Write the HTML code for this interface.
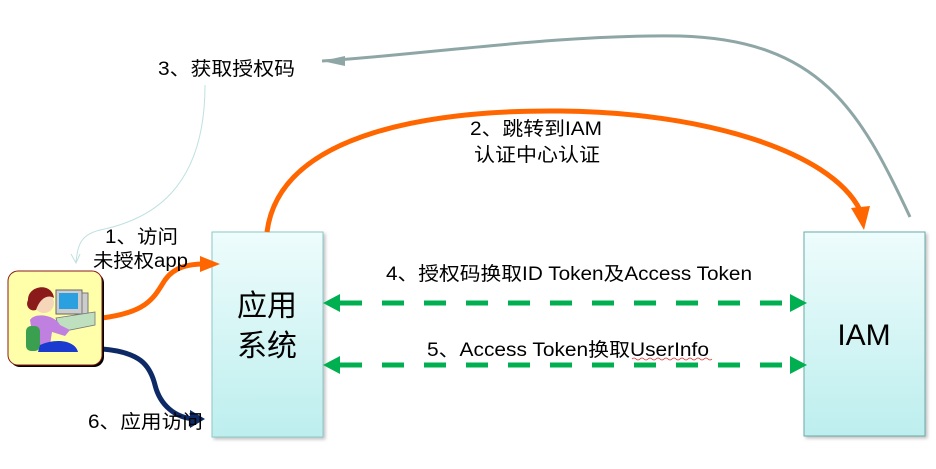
<!DOCTYPE html>
<html><head><meta charset="utf-8"><style>
html,body{margin:0;padding:0;background:#fff;}
svg text{font-family:"Liberation Sans","Noto Sans CJK SC",sans-serif;fill:#000;}
</style></head><body>
<svg width="936" height="464" viewBox="0 0 936 464" xmlns="http://www.w3.org/2000/svg">
<defs>
<linearGradient id="g" x1="0" y1="0" x2="0" y2="1">
<stop offset="0" stop-color="#eefcfc"/><stop offset="1" stop-color="#bdeeee"/>
</linearGradient>
<filter id="sh"><feDropShadow dx="2" dy="2" stdDeviation="1.5" flood-color="#999" flood-opacity="0.6"/></filter>
</defs>
<rect x="212" y="232" width="111" height="205" fill="url(#g)" stroke="#8cc8c8" stroke-width="1" filter="url(#sh)"/>
<rect x="804" y="232" width="121" height="204" fill="url(#g)" stroke="#6aabab" stroke-width="1" filter="url(#sh)"/>
<text x="267" y="316" font-size="30" text-anchor="middle" fill="#222">应用</text>
<text x="267" y="356" font-size="30" text-anchor="middle" fill="#222">系统</text>
<text x="864" y="345" font-size="30" text-anchor="middle">IAM</text>
<path d="M910 217 C860 110 820 40 680 36 C560 34 420 55 322 61" fill="none" stroke="#8fa6a6" stroke-width="3"/>
<path d="M322 61 L345 56 L345 66 Z" fill="#8fa6a6"/>
<path d="M205 85 C205 190 150 220 100 230 C80 235 78 245 76 262" fill="none" stroke="#bfe0e0" stroke-width="1"/>
<path d="M71 254 L76 263 L80 254" fill="none" stroke="#bfe0e0" stroke-width="1"/>
<text x="158" y="75" font-size="19" textLength="137" lengthAdjust="spacingAndGlyphs">3、获取授权码</text>
<path d="M267 232 C280 130 440 110 560 111 C700 112 830 150 860 210" fill="none" stroke="#ff6600" stroke-width="5"/>
<path d="M851 208 L870 206 L864 230 Z" fill="#ff6600"/>
<text x="470" y="135" font-size="19" textLength="132" lengthAdjust="spacingAndGlyphs">2、跳转到IAM</text>
<text x="474" y="161" font-size="19" textLength="126" lengthAdjust="spacingAndGlyphs">认证中心认证</text>
<path d="M102 318 C150 312 155 295 165 280 C175 266 190 264 205 264" fill="none" stroke="#ff6600" stroke-width="5"/>
<path d="M200 256 L220 264 L200 272 Z" fill="#ff6600"/>
<text x="105" y="243" font-size="19" textLength="73" lengthAdjust="spacingAndGlyphs">1、访问</text>
<text x="93" y="267" font-size="19" textLength="95" lengthAdjust="spacingAndGlyphs">未授权app</text>
<path d="M102 349 C140 352 150 365 155 385 C160 405 175 418 195 419" fill="none" stroke="#0d2a66" stroke-width="5"/>
<path d="M190 410 L205 419 L190 428 Z" fill="#0d2a66"/>
<text x="88" y="428" font-size="19" textLength="115" lengthAdjust="spacingAndGlyphs">6、应用访问</text>
<g stroke="#00b050" stroke-width="5" stroke-dasharray="22 20">
<line x1="340" y1="303" x2="790" y2="303"/>
<line x1="340" y1="365" x2="790" y2="365"/>
</g>
<g fill="#00b050">
<path d="M323 303 L340 294 L340 312 Z"/><path d="M807 303 L790 294 L790 312 Z"/>
<path d="M323 365 L340 356 L340 374 Z"/><path d="M807 365 L790 356 L790 374 Z"/>
</g>
<text x="386" y="280" font-size="19" textLength="366" lengthAdjust="spacingAndGlyphs">4、授权码换取ID Token及Access Token</text>
<text x="427" y="356" font-size="19" textLength="282" lengthAdjust="spacingAndGlyphs">5、Access Token换取UserInfo</text>
<path d="M632 359 q2 -2 4 0 t4 0 t4 0 t4 0 t4 0 t4 0 t4 0 t4 0 t4 0 t4 0 t4 0 t4 0 t4 0 t4 0 t4 0 t4 0 t4 0 t4 0 t4 0 t4 0" fill="none" stroke="#e03030" stroke-width="0.8"/>
<rect x="10" y="273" width="94" height="94" rx="10" fill="#000"/>
<rect x="8" y="271" width="94" height="94" rx="10" fill="#ffffaa" stroke="#8b1a1a" stroke-width="1"/>
<rect x="56" y="290" width="26" height="24" fill="#ccc" stroke="#666"/>
<rect x="59" y="293" width="19" height="16" fill="#2aa0e0"/>
<rect x="82" y="293" width="6" height="26" fill="#ccc" stroke="#777"/>
<path d="M56 318 L95 312 L95 325 L60 332 Z" fill="#bfe0bf" stroke="#777" stroke-width="0.8"/>
<circle cx="44" cy="303" r="10" fill="#f5d6b8"/>
<path d="M28 300 C28 285 52 282 54 298 C48 294 40 298 36 310 C30 312 25 306 28 300 Z" fill="#8b1a1a"/>
<path d="M30 320 C35 312 55 315 60 325 L70 330 L65 336 L52 332 L50 345 L34 345 Z" fill="#c080e0"/>
<rect x="26" y="326" width="14" height="25" rx="5" fill="#3aa050"/>
<path d="M40 345 C55 338 75 340 78 352 L38 352 Z" fill="#1a3ad0"/>
</svg>
</body></html>
